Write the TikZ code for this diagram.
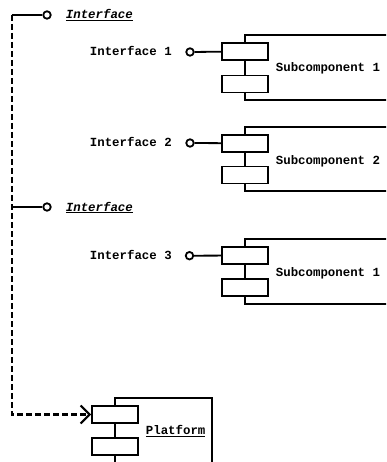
\documentclass[tikz,border=0pt]{standalone}
\usepackage{fontspec}
\setmonofont{Liberation Mono}
\usetikzlibrary{arrows.meta}
\begin{document}
\begin{tikzpicture}[x=1pt,y=-1pt,
  line width=1.8pt,
  port/.style={draw, fill=white, rectangle, minimum width=46pt, minimum height=17pt, inner sep=0pt},
  lollipop/.style={draw, fill=white, circle, minimum size=7.5pt, inner sep=0pt},
  lbl/.style={font=\ttfamily\bfseries\fontsize{12.4}{14}\selectfont, inner sep=0pt},
  ilbl/.style={font=\ttfamily\bfseries\itshape\fontsize{12.4}{14}\selectfont, inner sep=0pt},
  dep/.style={dash pattern=on 6pt off 3pt, line width=2.1pt},
]
\useasboundingbox (0,0) rectangle (386,462);
\clip (0,0) rectangle (386,462);

% provided interfaces of the enclosing component
\coordinate (c1) at (11.7,15);
\coordinate (c2) at (11.7,207);
\coordinate (c3) at (11.7,414.5);
\node[lollipop] (ti1) at (47,15) {};
\node[lollipop] (ti2) at (47,207) {};
\draw (c1) -- (ti1);
\draw (c2) -- (ti2);
\node[ilbl, anchor=base west] (tl1) at (65,19) {\underline{Interface}};
\node[ilbl, anchor=base west] (tl2) at (65,211) {\underline{Interface}};

% subcomponent 1
\draw (395,35) -- (245,35) -- (245,100) -- (395,100);
\node[port] (s1a) at (245,51.5) {};
\node[port] (s1b) at (245,84) {};
\node[lollipop] (i1) at (190,52) {};
\draw (i1) -- (s1a);
\node[lbl, anchor=base west] (il1) at (89,55.5) {Interface 1};
\node[lbl, anchor=base west] (sl1) at (275,72) {Subcomponent 1};

% subcomponent 2
\draw (395,126.7) -- (245,126.7) -- (245,190.7) -- (395,190.7);
\node[port] (s2a) at (245,143.3) {};
\node[port] (s2b) at (245,175) {};
\node[lollipop] (i2) at (190,143) {};
\draw (i2) -- (s2a);
\node[lbl, anchor=base west] (il2) at (89,146.5) {Interface 2};
\node[lbl, anchor=base west] (sl2) at (275,164.5) {Subcomponent 2};

% subcomponent 3
\draw (395,239.3) -- (245,239.3) -- (245,304.3) -- (395,304.3);
\node[port] (s3a) at (245,255.5) {};
\node[port] (s3b) at (245,287.7) {};
\node[lollipop] (i3) at (189.5,255.7) {};
\draw (i3) -- (s3a);
\node[lbl, anchor=base west] (il3) at (89,259.5) {Interface 3};
\node[lbl, anchor=base west] (sl3) at (275,276) {Subcomponent 1};

% platform
\draw (115,470) -- (115,398.3) -- (211.7,398.3) -- (211.7,470);
\node[port] (p1) at (115,414.5) {};
\node[port] (p2) at (115,446.7) {};
\node[lbl, anchor=base west] (pl) at (145,434.5) {\underline{Platform}};

% dependency onto the platform
\draw[dep, -{Straight Barb[length=9pt,width=18pt]}] (c1) -- (c3) -- (p1.west);
\end{tikzpicture}
\end{document}
